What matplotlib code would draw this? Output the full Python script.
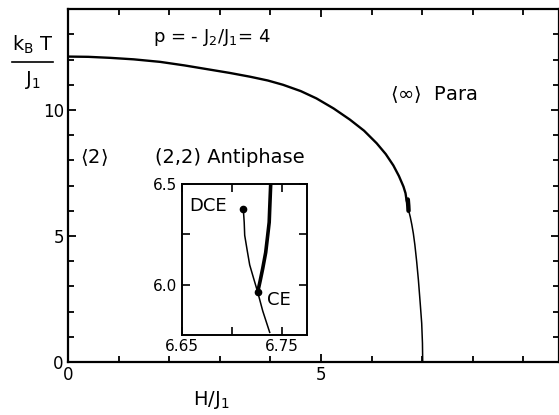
import matplotlib
matplotlib.use("Agg")
import matplotlib.pyplot as plt
from matplotlib.ticker import FixedLocator

# ---- data ----
H_upper = [0.0, 0.4, 0.83, 1.3, 1.82, 2.3, 2.81, 3.2, 3.6, 3.95, 4.25, 4.6, 4.91, 5.25, 5.57, 5.85, 6.1, 6.28, 6.43, 6.54, 6.63, 6.67, 6.69, 6.72]
T_upper = [12.12, 12.11, 12.07, 12.01, 11.91, 11.77, 11.6, 11.47, 11.32, 11.17, 11.0, 10.75, 10.46, 10.06, 9.62, 9.18, 8.68, 8.25, 7.8, 7.38, 6.96, 6.7, 6.43, 6.2]
H_blob = [6.715, 6.725, 6.73]
T_blob = [6.45, 6.2, 6.0]
H_lower = [6.73, 6.765, 6.795, 6.825, 6.855, 6.89, 6.925, 6.96, 6.99, 7.005, 7.01]
T_lower = [6.03, 5.75, 5.45, 5.1, 4.65, 4.0, 3.25, 2.35, 1.54, 0.75, 0.0]

# inset
H_ce_thick = [6.726, 6.7285, 6.731, 6.734, 6.736, 6.7375, 6.738, 6.739]
T_ce_thick = [5.963, 6.02, 6.08, 6.16, 6.245, 6.31, 6.376, 6.5]
H_thin = [6.7116, 6.7125, 6.713, 6.7155, 6.718, 6.722, 6.726, 6.731, 6.738]
T_thin = [6.376, 6.31, 6.245, 6.17, 6.098, 6.03, 5.963, 5.87, 5.763]
DCE = (6.7116, 6.376)
CE = (6.726, 5.963)

main_xticks = [0, 5]
main_yticks = [0, 5, 10]
inset_xticklabels = ["6.65", "6.75"]
inset_yticklabels = ["6.0", "6.5"]

W, Hh = 559, 415
fig = plt.figure(figsize=(W / 100, Hh / 100), dpi=100)
plt.rcParams['font.family'] = ['DejaVu Sans']

def fx(px):
    return px / W

def fy(py):
    return 1 - py / Hh

# main axes: x=0 at px 68, 50.6 px/unit; y=0 at py 362, 25.2 px/unit
x0, y0, ux, uy = 68, 362, 50.6, 25.2
xmax, ymax = 9.7, 14.0
ax = fig.add_axes([fx(x0), fy(y0), xmax * ux / W, ymax * uy / Hh])
ax.set_xlim(0, xmax)
ax.set_ylim(0, ymax)

ax.plot(H_upper, T_upper, color='black', lw=1.7, solid_capstyle='round', solid_joinstyle='round')
ax.plot(H_blob, T_blob, color='black', lw=3.2, solid_capstyle='round')
ax.plot(H_lower, T_lower, color='black', lw=1.1, solid_joinstyle='round')

for s in ax.spines.values():
    s.set_linewidth(1.6)

ax.xaxis.set_major_locator(FixedLocator(main_xticks))
ax.yaxis.set_major_locator(FixedLocator(main_yticks))
ax.xaxis.set_minor_locator(FixedLocator([1, 2, 3, 4, 6, 7, 8, 9]))
ax.yaxis.set_minor_locator(FixedLocator([1, 2, 3, 4, 6, 7, 8, 9, 11, 12, 13]))
ax.set_xticklabels([str(v) for v in main_xticks])
ax.set_yticklabels([str(v) for v in main_yticks])
ax.tick_params(which='both', direction='in', top=True, right=True, width=1.3)
ax.tick_params(which='major', length=6, labelsize=12, pad=3)
ax.tick_params(which='minor', length=4.5)

ax.text(1.68, 12.86, "p = - J$_2$/J$_1$= 4", fontsize=13, va='center', ha='left')
ax.text(6.36, 10.6, r"$\langle\infty\rangle$  Para", fontsize=14, va='center', ha='left')
ax.text(0.24, 8.1, r"$\langle$2$\rangle$", fontsize=14, va='center', ha='left')
ax.text(1.72, 8.1, "(2,2) Antiphase", fontsize=14, va='center', ha='left')

# y label as a fraction
fig.text(fx(33), fy(45), "k$_{\\rm B}$ T", fontsize=14, ha='center', va='center')
fig.add_artist(plt.Line2D([fx(12), fx(53)], [fy(62), fy(62)], color='black', lw=1.2))
fig.text(fx(33), fy(80), "J$_1$", fontsize=14, ha='center', va='center')
fig.text(fx(211), fy(400), "H/J$_1$", fontsize=14, ha='center', va='center')

# inset axes
ix0, ix1, iy_top, iy_bot = 181.7, 306.7, 184, 335
axi = fig.add_axes([fx(ix0), fy(iy_bot), (ix1 - ix0) / W, (iy_bot - iy_top) / Hh])
axi.set_xlim(6.65, 6.775)
axi.set_ylim(5.75, 6.5)
axi.plot(H_thin, T_thin, color='black', lw=1.1, solid_joinstyle='round')
axi.plot(H_ce_thick, T_ce_thick, color='black', lw=2.6, solid_joinstyle='round')
axi.plot(*DCE, 'o', color='black', ms=4.5)
axi.plot(*CE, 'o', color='black', ms=4.5)
axi.text(6.658, 6.39, "DCE", fontsize=13, ha='left', va='center')
axi.text(6.7355, 5.925, "CE", fontsize=13, ha='left', va='center')
for s in axi.spines.values():
    s.set_linewidth(1.4)
axi.xaxis.set_major_locator(FixedLocator([6.65, 6.75]))
axi.xaxis.set_minor_locator(FixedLocator([6.70]))
axi.yaxis.set_major_locator(FixedLocator([6.0, 6.5]))
axi.yaxis.set_minor_locator(FixedLocator([6.25]))
axi.set_xticklabels(inset_xticklabels)
axi.set_yticklabels(inset_yticklabels)
axi.tick_params(which='both', direction='in', top=True, right=True, width=1.2, length=5.5)
axi.tick_params(which='major', labelsize=11, pad=3)

fig.savefig("out.png", dpi=100)
